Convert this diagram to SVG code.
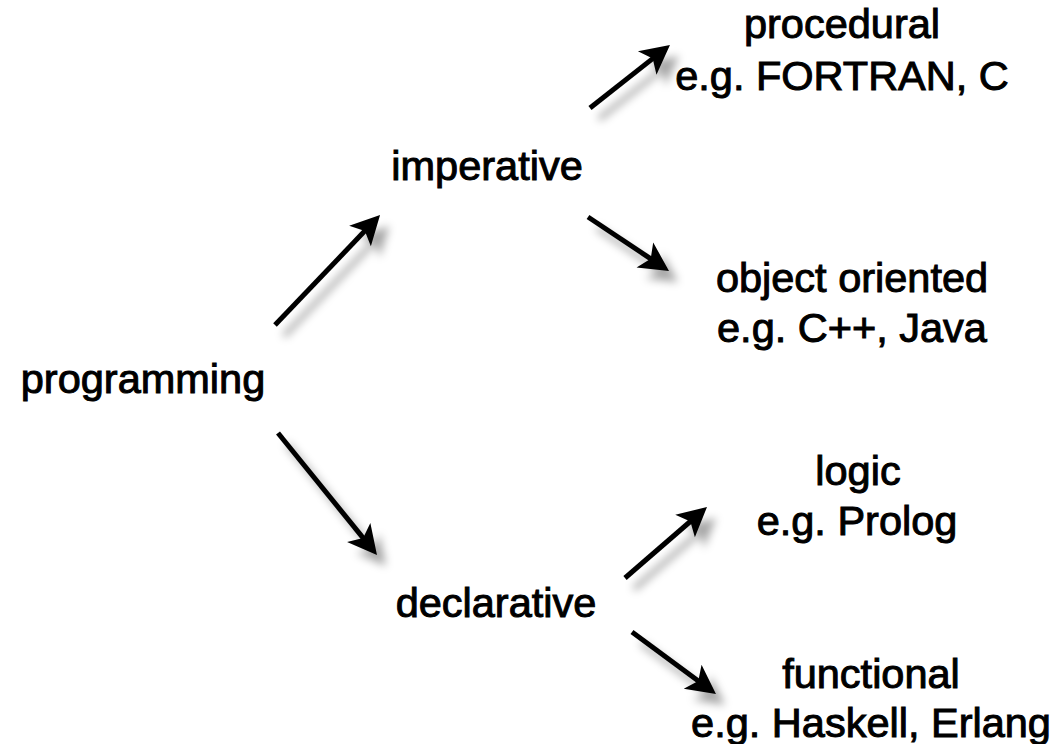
<svg xmlns="http://www.w3.org/2000/svg" width="1053" height="744" viewBox="0 0 1053 744">
<style>
.t{font-family:"Liberation Sans",Arial,sans-serif;font-size:41.5px;fill:#000;stroke:#000;stroke-width:1;text-anchor:middle}
.c{stroke:#000;stroke-width:5;fill:none;marker-end:url(#ah)}
</style>
<defs>
<marker id="ah" markerUnits="userSpaceOnUse" markerWidth="40" markerHeight="40" viewBox="-20 -20 40 40" refX="0" refY="0" orient="auto" overflow="visible">
<path d="M16,0 L-13,-15 L-6,0 L-13,15 Z" fill="#000"/>
</marker>
<filter id="sh" x="-30%" y="-30%" width="160%" height="160%">
<feDropShadow dx="9" dy="11" stdDeviation="4" flood-color="#000" flood-opacity="0.35"/>
</filter>
</defs>
<rect width="1053" height="744" fill="#fff"/>
<g id="connectors" filter="url(#sh)">
<path class="c" d="M275,325 L369,226.6"/>
<path class="c" d="M590,108 L657.4,54.9"/>
<path class="c" d="M588,217 L655.7,262.1"/>
<path class="c" d="M278,433 L366.9,542.6"/>
<path class="c" d="M625,578 L694.9,517.5"/>
<path class="c" d="M632,632 L703.1,684.5"/>
</g>
<g id="programming"><text class="t" x="143" y="393">programming</text></g>
<g id="imperative"><text class="t" x="487" y="180">imperative</text></g>
<g id="declarative"><text class="t" x="496" y="617">declarative</text></g>
<g id="procedural"><text class="t" x="842" y="38">procedural</text><text class="t" x="842" y="90">e.g. FORTRAN, C</text></g>
<g id="object-oriented"><text class="t" x="852" y="292">object oriented</text><text class="t" x="852" y="342">e.g. C++, Java</text></g>
<g id="logic"><text class="t" x="858" y="485">logic</text><text class="t" x="857" y="535">e.g. Prolog</text></g>
<g id="functional"><text class="t" x="871" y="688">functional</text><text class="t" x="871" y="737">e.g. Haskell, Erlang</text></g>
</svg>
